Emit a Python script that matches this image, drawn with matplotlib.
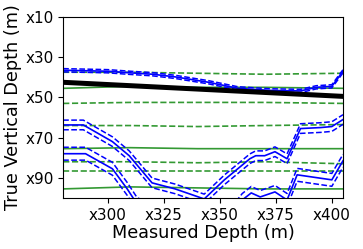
import numpy as np
import matplotlib
matplotlib.use('Agg')
import matplotlib.pyplot as plt
from matplotlib.ticker import FuncFormatter

# horizontes (verde)
hx = [280, 310, 340, 370, 405]
g1 = [37.5, 37.5, 38, 38.5, 38]
g2 = [45.5, 44.5, 45, 45, 45.5]
g3 = [53, 52.5, 52.5, 52.5, 53]
g4 = [64, 64, 64.5, 64, 63.5]
g5 = [75.5, 75, 75.5, 75.5, 75.5]
g6 = [82, 82, 82.5, 82, 83]
g7 = [86.5, 86.5, 86.5, 86.5, 86.5]
g8 = [95.5, 94.5, 95, 95.5, 95.5]

# superficies (azul)
ax_x = [280, 300, 310, 320, 330, 345, 358, 372, 386, 393, 400, 405]
ax_y = [36.5, 37, 37.8, 38.5, 39.8, 42.5, 45.5, 46.5, 46.8, 45, 44.5, 37]
ax_e = 0.8

bx = [280, 289, 302, 309.5, 319.7, 330, 343, 352, 363.4, 366, 370, 374.6, 380, 386, 395, 400, 405]
by = [63.7, 63.7, 72, 79, 92.5, 95.5, 100.5, 91, 80.5, 79, 79, 77, 80.5, 65.5, 65, 64.5, 61]
be = 2.4

cx = [280, 290, 302, 308.6, 313, 330, 355, 360, 364, 368, 374.6, 380, 384.5, 400, 405]
cy = [78, 78, 85.5, 95.5, 103, 112, 108, 101, 97.5, 99.5, 97, 101, 88.5, 91, 81.5]
ce = 3.2

# trayectoria del pozo
wx = [280, 405]
wy = [42.5, 49.5]

fig = plt.figure(figsize=(3.63, 2.49), dpi=100)
ax = fig.add_axes([0.174, 0.205, 0.771, 0.727])

for g, ls in [(g1, '--'), (g2, '-'), (g3, '--'), (g4, '--'),
              (g5, '-'), (g6, '--'), (g7, '--'), (g8, '-')]:
    ax.plot(hx, g, color='green', ls=ls, lw=1.2, alpha=0.8)

for sx, sy, e in [(ax_x, ax_y, ax_e), (bx, by, be), (cx, cy, ce)]:
    sy = np.array(sy)
    ax.plot(sx, sy, color='blue', lw=1.2)
    ax.plot(sx, sy - e, color='blue', ls='--', lw=1.1)
    ax.plot(sx, sy + e, color='blue', ls='--', lw=1.1)

ax.plot(wx, wy, color='black', lw=3.6)

ax.set_xlim(280, 405)
ax.set_ylim(100, 10)
ax.set_xticks([300, 325, 350, 375, 400])
ax.set_yticks([10, 30, 50, 70, 90])
fmt = FuncFormatter(lambda v, p: 'x%d' % v)
ax.xaxis.set_major_formatter(fmt)
ax.yaxis.set_major_formatter(fmt)
ax.tick_params(labelsize=10.9)
ax.set_xlabel('Measured Depth (m)', fontsize=12.7, labelpad=1)
ax.set_ylabel('True Vertical Depth (m)', fontsize=12.7, labelpad=2)

fig.savefig('out.png', dpi=100)
